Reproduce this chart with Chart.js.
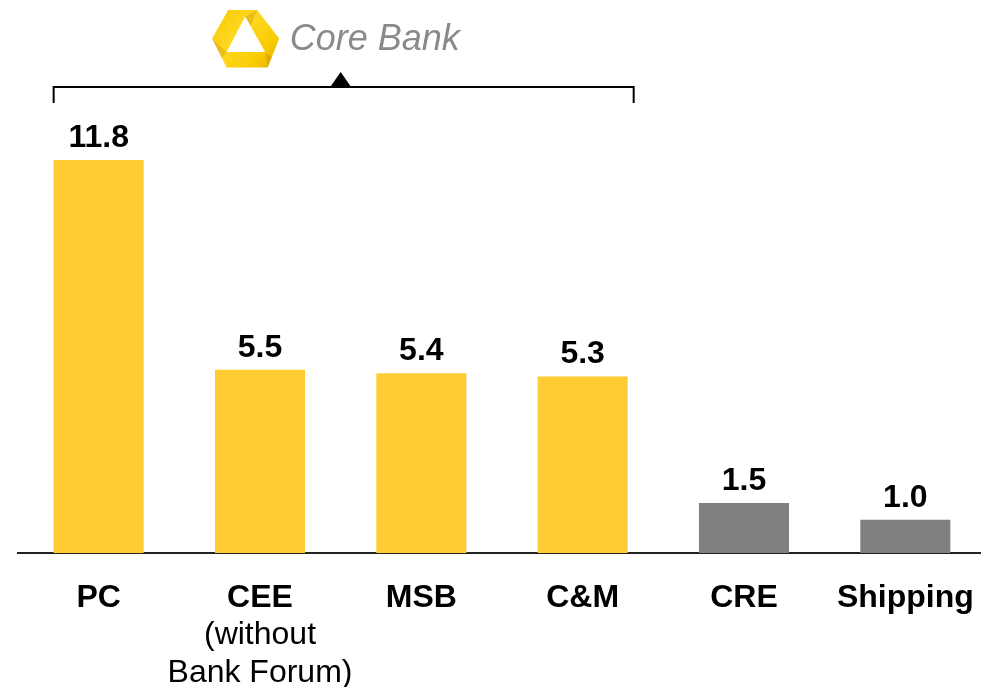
<!DOCTYPE html>
<html>
<head>
<meta charset="utf-8">
<script src="https://cdn.jsdelivr.net/npm/chart.js@4/dist/chart.umd.min.js"></script>
<style>
  html, body { margin: 0; padding: 0; background: #fff; overflow: hidden; }
  #wrap { position: absolute; left: 0; top: 0; width: 990px; height: 687px; }
</style>
</head>
<body>
<div id="wrap"><canvas id="c" width="990" height="687"></canvas></div>
<script>
// Segment results (EUR bn)
const categories = ['PC', 'CEE', 'MSB', 'C&M', 'CRE', 'Shipping'];
const categoryNotes = [[], ['(without', 'Bank Forum)'], [], [], [], []];
const values = [11.8, 5.5, 5.4, 5.3, 1.5, 1.0];
const valueLabels = ['11.8', '5.5', '5.4', '5.3', '1.5', '1.0'];
const coreBankSegments = ['PC', 'CEE', 'MSB', 'C&M'];
const headerText = 'Core Bank';

const YELLOW = '#FFCC33';
const GREY = '#808080';
const FONT = '"Liberation Sans", Arial, Helvetica, sans-serif';

const barColors = categories.map(c => coreBankSegments.includes(c) ? YELLOW : GREY);

// Value labels above each bar
const valueLabelPlugin = {
  id: 'valueLabels',
  afterDatasetsDraw(chart) {
    const ctx = chart.ctx;
    const meta = chart.getDatasetMeta(0);
    ctx.save();
    ctx.font = 'bold 32px ' + FONT;
    ctx.fillStyle = '#000';
    ctx.textAlign = 'center';
    ctx.textBaseline = 'alphabetic';
    meta.data.forEach((bar, i) => {
      ctx.fillText(valueLabels[i], bar.x, bar.y - 13);
    });
    ctx.restore();
  }
};

// Secondary lines under category names
const notesPlugin = {
  id: 'categoryNotes',
  afterDraw(chart) {
    const ctx = chart.ctx;
    const xs = chart.scales.x;
    const base = chart.chartArea.bottom;
    ctx.save();
    ctx.font = '32px ' + FONT;
    ctx.fillStyle = '#000';
    ctx.textAlign = 'center';
    ctx.textBaseline = 'alphabetic';
    categoryNotes.forEach((lines, i) => {
      const x = xs.getPixelForValue(i);
      lines.forEach((t, j) => ctx.fillText(t, x, base + 91 + j * 38));
    });
    ctx.restore();
  }
};

// Bracket grouping the core bank segments, with logo and heading
const bracketPlugin = {
  id: 'coreBracket',
  afterDraw(chart) {
    const ctx = chart.ctx;
    const meta = chart.getDatasetMeta(0);
    const first = meta.data[categories.indexOf(coreBankSegments[0])];
    const last = meta.data[categories.indexOf(coreBankSegments[coreBankSegments.length - 1])];
    const xs = chart.scales.x;
    const left = first.x - first.width / 2;
    const right = last.x + last.width / 2 + 6;
    const y = 87;
    ctx.save();
    ctx.strokeStyle = '#000';
    ctx.lineWidth = 2;
    ctx.beginPath();
    ctx.moveTo(left, y + 16);
    ctx.lineTo(left, y);
    ctx.lineTo(right, y);
    ctx.lineTo(right, y + 16);
    ctx.stroke();

    // pointer triangle
    const tx = (xs.getPixelForValue(1) + xs.getPixelForValue(2)) / 2;
    ctx.fillStyle = '#000';
    ctx.beginPath();
    ctx.moveTo(tx - 10.5, y);
    ctx.lineTo(tx, y - 15);
    ctx.lineTo(tx + 10.5, y);
    ctx.closePath();
    ctx.fill();

    // logo: ribbon hexagon with triangular opening
    const cx = tx - 95;
    const g = ctx.createLinearGradient(cx - 33, 10, cx + 33, 68);
    g.addColorStop(0, '#F5C800');
    g.addColorStop(0.4, '#FFD823');
    g.addColorStop(0.75, '#F9CB00');
    g.addColorStop(1, '#E0AC00');
    ctx.fillStyle = g;
    ctx.beginPath();
    ctx.moveTo(cx - 17.5, 10);
    ctx.lineTo(cx + 11.5, 10);
    ctx.lineTo(cx + 33.5, 38.5);
    ctx.lineTo(cx + 22, 67.5);
    ctx.lineTo(cx - 19, 67.5);
    ctx.lineTo(cx - 33.5, 38.5);
    ctx.closePath();
    ctx.moveTo(cx - 0.5, 16.5);
    ctx.lineTo(cx + 19.5, 52);
    ctx.lineTo(cx - 19, 52);
    ctx.closePath();
    ctx.fill('evenodd');
    // fold shading
    ctx.fillStyle = 'rgba(180,125,0,0.28)';
    ctx.beginPath();
    ctx.moveTo(cx - 33.5, 38.5);
    ctx.lineTo(cx - 19, 52);
    ctx.lineTo(cx - 24, 58);
    ctx.closePath();
    ctx.fill();
    ctx.beginPath();
    ctx.moveTo(cx + 11.5, 10);
    ctx.lineTo(cx - 0.5, 16.5);
    ctx.lineTo(cx + 5, 26);
    ctx.closePath();
    ctx.fill();
    ctx.beginPath();
    ctx.moveTo(cx + 19.5, 52);
    ctx.lineTo(cx + 22, 67.5);
    ctx.lineTo(cx + 26, 57);
    ctx.closePath();
    ctx.fill();

    // heading
    ctx.font = 'italic 36px ' + FONT;
    ctx.fillStyle = '#8A8A8A';
    ctx.textAlign = 'left';
    ctx.textBaseline = 'alphabetic';
    ctx.fillText(headerText, cx + 44, 50);
    ctx.restore();
  }
};

new Chart(document.getElementById('c'), {
  type: 'bar',
  data: {
    labels: categories,
    datasets: [{
      data: values,
      backgroundColor: barColors,
      borderWidth: 0,
      categoryPercentage: 1,
      barPercentage: 0.558
    }]
  },
  options: {
    responsive: false,
    animation: false,
    events: [],
    layout: { padding: { top: 120, left: 18, right: 4, bottom: 0 } },
    plugins: {
      legend: { display: false },
      tooltip: { enabled: false }
    },
    scales: {
      x: {
        grid: { display: false, drawTicks: false },
        border: { display: true, color: '#222', width: 2 },
        ticks: {
          color: '#000',
          font: { family: FONT, size: 32, weight: 'bold' },
          padding: 26,
          maxRotation: 0,
          autoSkip: false
        },
        afterFit(scale) {
          scale.height = 134;
          scale.paddingLeft = 0;
          scale.paddingRight = 0;
        }
      },
      y: {
        display: false,
        min: 0,
        max: 13
      }
    }
  },
  plugins: [valueLabelPlugin, notesPlugin, bracketPlugin]
});
</script>
</body>
</html>
